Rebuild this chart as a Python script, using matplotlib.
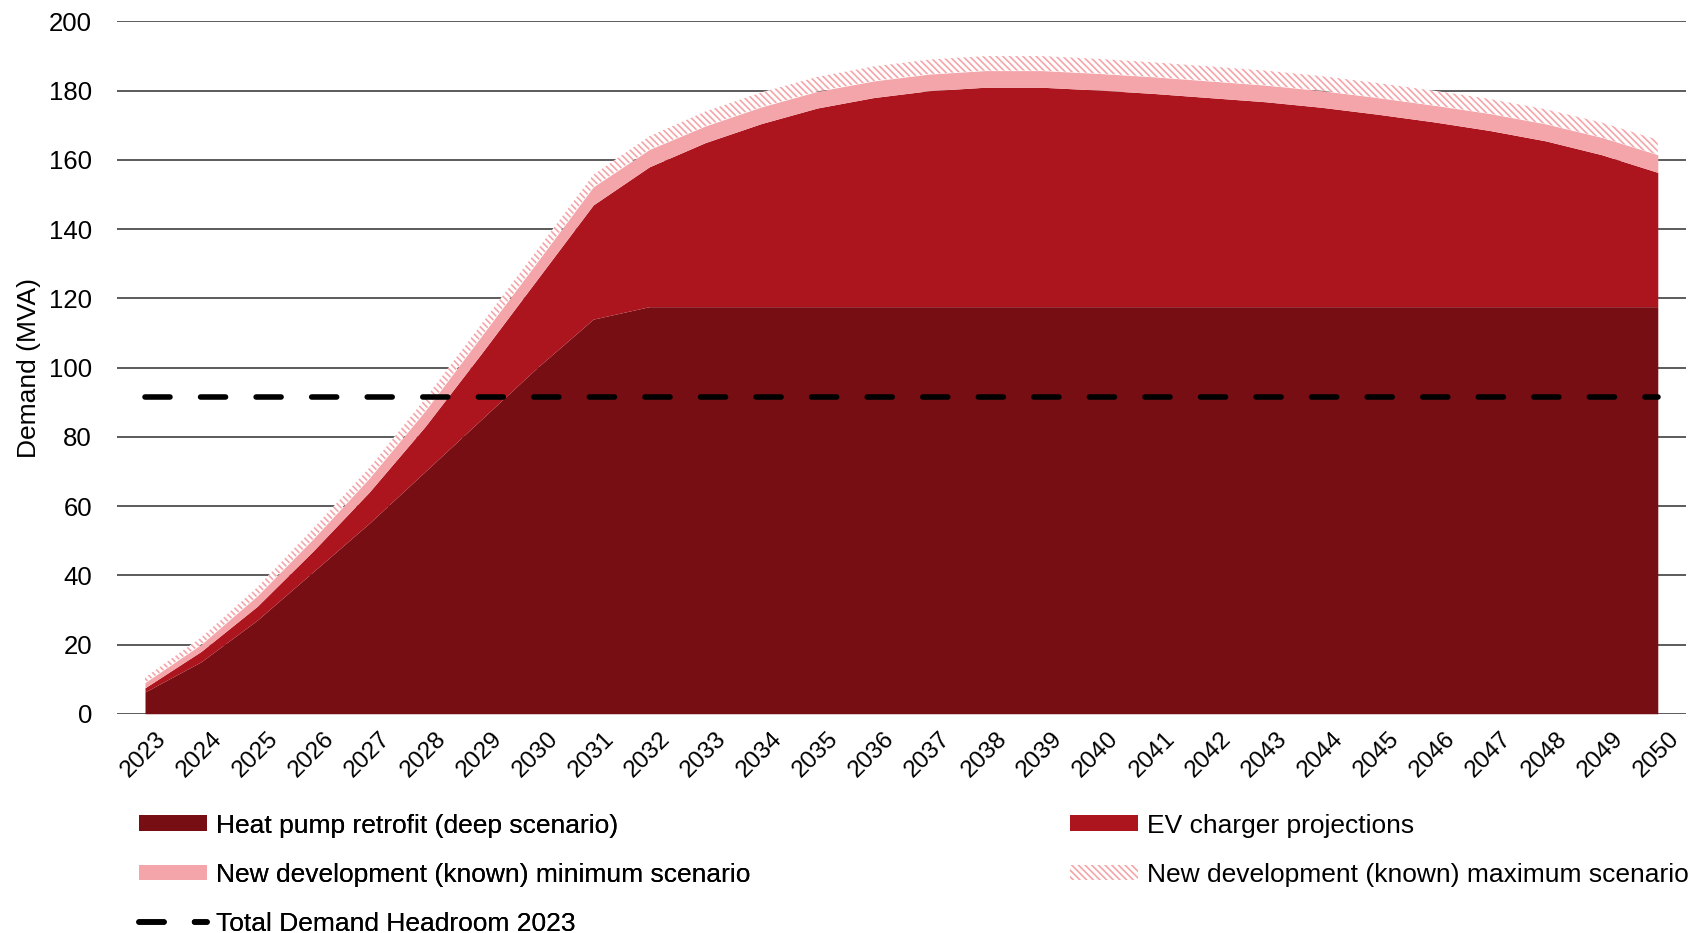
import matplotlib
matplotlib.use("Agg")
import matplotlib.pyplot as plt
import matplotlib.transforms as mtransforms
from matplotlib.patches import Patch
from matplotlib.lines import Line2D
import numpy as np

years = [str(y) for y in range(2023, 2051)]

# heat pump retrofit (deep scenario), MVA
heat_pump = [6.3, 15, 27, 41, 55, 70, 85, 100, 114, 117.6,
             117.6, 117.6, 117.6, 117.6, 117.6, 117.6, 117.6, 117.6, 117.6, 117.6,
             117.6, 117.6, 117.6, 117.6, 117.6, 117.6, 117.6, 117.6]
# cumulative top of EV layer
ev_top = [7.5, 18, 31, 47, 64, 83, 104, 125.5, 147, 158,
          165, 170.5, 175, 178, 180, 181, 181, 180.2, 179.2, 178,
          176.8, 175.2, 173.2, 171, 168.5, 165.5, 161.5, 156.4]
new_dev_min = [1.5, 2, 3, 3.5, 4, 4.5, 5, 5, 5.2, 5,
               4.8, 4.8, 4.8, 4.8, 4.8, 4.8, 4.8, 4.8, 4.8, 4.8,
               4.8, 4.8, 4.8, 4.8, 4.9, 4.9, 5, 5.1]
new_dev_max = [1.5, 2, 2.5, 3, 3, 3.5, 3.5, 3.5, 3.5, 3.8,
               4.2, 4.2, 4.2, 4.2, 4.2, 4.2, 4.2, 4.2, 4.2, 4.2,
               4.2, 4.2, 4.2, 4.2, 4.2, 4.2, 4.3, 4.3]
headroom_2023 = 91.6

DARK = "#760e14"
RED = "#ad151e"
PINK = "#f4a5aa"

plt.rcParams["font.family"] = ["Liberation Sans", "DejaVu Sans"]
plt.rcParams["hatch.color"] = PINK
plt.rcParams["hatch.linewidth"] = 1.2

x = np.arange(len(years))
hp = np.array(heat_pump)
ev = np.array(ev_top)
mn = ev + np.array(new_dev_min)
mx = mn + np.array(new_dev_max)

fig = plt.figure(figsize=(17.08, 9.33), dpi=100)
ax = fig.add_axes([0.0685, 0.235, 0.9185, 0.742])

ax.fill_between(x, 0, hp, color=DARK, lw=0, zorder=2)
ax.fill_between(x, hp, ev, color=RED, lw=0, zorder=2)
ax.fill_between(x, ev, mn, color=PINK, lw=0, zorder=2)
ax.fill_between(x, mn, mx, facecolor="white", edgecolor=PINK, hatch="\\\\\\\\\\", lw=0, zorder=2)
ax.plot(x, [headroom_2023] * len(x), color="black", lw=4, dashes=(4.5, 5.5),
        dash_capstyle="round", zorder=3)

ax.set_xlim(-0.5, len(x) - 0.5)
ax.set_ylim(0, 200)
ax.set_yticks(range(0, 201, 20))
ax.yaxis.grid(True, color="#404040", lw=1.2)
ax.set_axisbelow(True)
for s in ax.spines.values():
    s.set_visible(False)
ax.set_xticks(x)
ax.set_xticklabels(years, rotation=45, ha="right", rotation_mode="anchor")
ax.tick_params(axis="y", length=0, labelsize=18.5, pad=18)
ax.tick_params(axis="x", length=0, labelsize=17.5, pad=10)
# nudge year labels right, like the original
shift = mtransforms.ScaledTranslation(10 / 100, 0, fig.dpi_scale_trans)
for lbl in ax.get_xticklabels():
    lbl.set_transform(lbl.get_transform() + shift)
ax.set_ylabel("Demand (MVA)", fontsize=19, labelpad=6)

common = dict(frameon=False, loc="upper left", borderpad=0, borderaxespad=0,
              handlelength=2.58, handleheight=0.53, labelspacing=0.95,
              handletextpad=0.35, prop={"size": 19})
left = fig.legend(
    [Patch(facecolor=DARK, edgecolor="none"),
     Patch(facecolor=PINK, edgecolor="none"),
     Line2D([0], [0], color="black", lw=4, dashes=(4.5, 5.5), dash_capstyle="round")],
    ["Heat pump retrofit (deep scenario)",
     "New development (known) minimum scenario",
     "Total Demand Headroom 2023"],
    bbox_to_anchor=(139 / 1708, 0.128), **common)
fig.legend(
    [Patch(facecolor=RED, edgecolor="none"),
     Patch(facecolor="white", edgecolor=PINK, hatch="\\\\\\\\\\", lw=0)],
    ["EV charger projections",
     "New development (known) maximum scenario"],
    bbox_to_anchor=(1070 / 1708, 0.128), **common)
fig.add_artist(left)

fig.savefig("out.png", dpi=100)
